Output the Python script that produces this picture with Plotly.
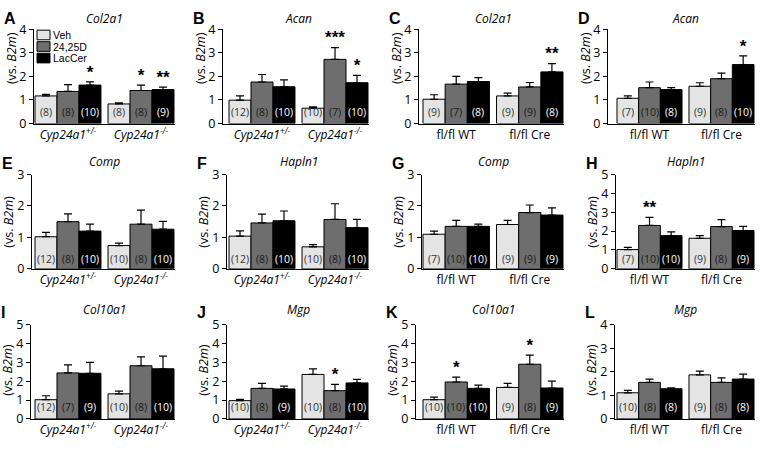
import plotly.graph_objects as go

# ---------------- data ----------------
series_names = ["Veh", "24,25D", "LacCer"]
panel_letters = ["A", "B", "C", "D", "E", "F", "G", "H", "I", "J", "K", "L"]
genes = ["Col2a1", "Acan", "Col2a1", "Acan",
         "Comp", "Hapln1", "Comp", "Hapln1",
         "Col10a1", "Mgp", "Col10a1", "Mgp"]
groups_global = ["Cyp24a1<sup>+/-</sup>", "Cyp24a1<sup>-/-</sup>"]
groups_cond = ["fl/fl WT", "fl/fl Cre"]
y_max = [4, 4, 4, 4, 3, 3, 3, 5, 5, 5, 5, 4]

# values ordered: group1 (Veh, 24,25D, LacCer), group2 (Veh, 24,25D, LacCer)
mean_A = [1.17, 1.36, 1.63, 0.83, 1.40, 1.44]
sem_A = [0.07, 0.29, 0.14, 0.05, 0.23, 0.10]
n_A = [8, 8, 10, 8, 8, 9]
sig_A = ["", "", "*", "", "*", "**"]

mean_B = [0.99, 1.76, 1.56, 0.65, 2.72, 1.73]
sem_B = [0.18, 0.32, 0.29, 0.06, 0.50, 0.31]
n_B = [12, 8, 10, 10, 7, 10]
sig_B = ["", "", "", "", "***", "*"]

mean_C = [1.03, 1.67, 1.78, 1.17, 1.55, 2.19]
sem_C = [0.19, 0.33, 0.17, 0.12, 0.19, 0.35]
n_C = [9, 7, 8, 9, 9, 8]
sig_C = ["", "", "", "", "", "**"]

mean_D = [1.07, 1.52, 1.44, 1.58, 1.90, 2.50]
sem_D = [0.10, 0.24, 0.08, 0.15, 0.24, 0.37]
n_D = [7, 10, 8, 9, 8, 10]
sig_D = ["", "", "", "", "", "*"]

mean_E = [1.02, 1.50, 1.20, 0.74, 1.42, 1.26]
sem_E = [0.14, 0.25, 0.22, 0.08, 0.45, 0.25]
n_E = [12, 8, 10, 10, 8, 10]
sig_E = ["", "", "", "", "", ""]

mean_F = [1.04, 1.46, 1.53, 0.70, 1.57, 1.31]
sem_F = [0.17, 0.28, 0.31, 0.07, 0.50, 0.26]
n_F = [12, 8, 10, 10, 8, 10]
sig_F = ["", "", "", "", "", ""]

mean_G = [1.10, 1.35, 1.35, 1.41, 1.79, 1.71]
sem_G = [0.10, 0.19, 0.07, 0.13, 0.24, 0.23]
n_G = [7, 10, 10, 9, 9, 9]
sig_G = ["", "", "", "", "", ""]

mean_H = [1.02, 2.30, 1.76, 1.62, 2.24, 2.03]
sem_H = [0.12, 0.43, 0.20, 0.14, 0.37, 0.22]
n_H = [7, 10, 10, 9, 8, 9]
sig_H = ["", "**", "", "", "", ""]

mean_I = [1.02, 2.44, 2.42, 1.33, 2.82, 2.66]
sem_I = [0.21, 0.43, 0.58, 0.15, 0.47, 0.67]
n_I = [12, 7, 9, 10, 8, 10]
sig_I = ["", "", "", "", "", ""]

mean_J = [0.97, 1.62, 1.59, 2.36, 1.50, 1.91]
sem_J = [0.07, 0.27, 0.15, 0.29, 0.33, 0.19]
n_J = [10, 8, 9, 10, 8, 10]
sig_J = ["", "", "", "", "*", ""]

mean_K = [1.02, 1.96, 1.62, 1.67, 2.90, 1.64]
sem_K = [0.14, 0.26, 0.17, 0.22, 0.48, 0.37]
n_K = [10, 10, 10, 9, 8, 9]
sig_K = ["", "*", "", "", "*", ""]

mean_L = [1.11, 1.55, 1.28, 1.87, 1.55, 1.69]
sem_L = [0.10, 0.14, 0.04, 0.16, 0.19, 0.21]
n_L = [10, 8, 8, 9, 8, 8]
sig_L = ["", "", "", "", "", ""]

means = [mean_A, mean_B, mean_C, mean_D, mean_E, mean_F, mean_G, mean_H, mean_I, mean_J, mean_K, mean_L]
sems = [sem_A, sem_B, sem_C, sem_D, sem_E, sem_F, sem_G, sem_H, sem_I, sem_J, sem_K, sem_L]
ns = [n_A, n_B, n_C, n_D, n_E, n_F, n_G, n_H, n_I, n_J, n_K, n_L]
sigs = [sig_A, sig_B, sig_C, sig_D, sig_E, sig_F, sig_G, sig_H, sig_I, sig_J, sig_K, sig_L]

# ---------------- styling / layout ----------------
W, H = 767, 451
FONT = "Open Sans"
fills = ["#e4e4e4", "#6e6e6e", "#000000"]
ncolors = ["#333333", "#1a1a1a", "#ffffff"]

axis_px = [34, 223, 419, 608, 32, 227, 422, 616, 31, 227, 416, 615]
col_bars = [(35, 174), (229, 368), (423, 563), (617, 754)]
row_px = [(21, 119), (172, 270), (328, 426)]  # (top, base)
title_y = [10, 158, 312]
letter_y = [10, 161, 315]
ytitle_y = [51, 221, 375]
nlabel_shift = [3, 1, 3]
GAP = 0.32

fig = go.Figure()
annotations = []
shapes = []
layout_axes = {}

for i in range(12):
    r, c = divmod(i, 4)
    k = "" if i == 0 else str(i + 1)
    xa, ya = "x" + k, "y" + k
    bs, be = col_bars[c]
    top, base = row_px[r]
    u = (be - bs) / (6 + GAP)
    x0 = -0.5 - (bs - axis_px[i]) / u
    x1 = 5.5 + GAP + 1.0 / u
    groups = groups_global if c < 2 else groups_cond
    centers = [1.0, 4.0 + GAP]

    layout_axes["xaxis" + k] = dict(
        domain=[axis_px[i] / W, (be + 1) / W], range=[x0, x1], anchor=ya,
        showline=True, linecolor="black", linewidth=1, ticks="",
        tickvals=centers, ticktext=groups, showgrid=False, zeroline=False,
        tickfont=dict(size=12, color="black", family=FONT,
                      style="italic" if c < 2 else "normal"),
        fixedrange=True)
    layout_axes["yaxis" + k] = dict(
        domain=[1 - base / H, 1 - top / H], range=[0, y_max[i]], anchor=xa,
        showline=True, linecolor="black", linewidth=1, ticks="outside",
        ticklen=4, tickcolor="black", tickvals=list(range(y_max[i] + 1)),
        showgrid=False, zeroline=False,
        tickfont=dict(size=12.5, color="black", family=FONT), fixedrange=True)

    m, s, n, sg = means[i], sems[i], ns[i], sigs[i]
    for j in range(3):
        xs = [j, 3 + GAP + j]
        fig.add_trace(go.Bar(
            x=xs, y=[m[j], m[3 + j]], width=1.0, xaxis=xa, yaxis=ya,
            name=series_names[j], showlegend=False,
            marker=dict(color=fills[j], line=dict(color="black", width=1)),
            error_y=dict(type="data", symmetric=False, array=[s[j], s[3 + j]],
                         arrayminus=[0, 0], color="black", thickness=1.2, width=4),
            cliponaxis=False))
        # sample-size labels at the base of each bar
        for g in range(2):
            annotations.append(dict(
                text=f"({n[g * 3 + j]})", x=xs[g], y=0, xref=xa, yref=ya,
                showarrow=False, xanchor="center", yanchor="bottom",
                yshift=nlabel_shift[r],
                font=dict(size=10.5, color=ncolors[j], family=FONT)))
    sx, sy, st = [], [], []
    for g in range(2):
        for j in range(3):
            idx = g * 3 + j
            if sg[idx]:
                sx.append(g * (3 + GAP) + j)
                sy.append(m[idx] + s[idx])
                st.append(sg[idx])
    if sx:
        fig.add_trace(go.Scatter(
            x=sx, y=sy, text=st, mode="text", textposition="top center",
            textfont=dict(size=17, color="#000000", family="Liberation Sans",
                          weight="bold"),
            xaxis=xa, yaxis=ya, showlegend=False, cliponaxis=False))

    # gene title
    annotations.append(dict(
        text=genes[i], x=(bs + be) / 2 / W, y=1 - title_y[r] / H,
        xref="paper", yref="paper", showarrow=False, xanchor="center", yanchor="middle",
        font=dict(size=12, color="black", family=FONT, style="italic")))
    # panel letter
    annotations.append(dict(
        text=panel_letters[i], x=(axis_px[i] - 32) / W, y=1 - letter_y[r] / H,
        xref="paper", yref="paper", showarrow=False, xanchor="left", yanchor="middle",
        font=dict(size=16, color="black", family="Liberation Sans", weight="bold")))
    # y title
    annotations.append(dict(
        text="(vs. <i>B2m</i>)", x=(axis_px[i] - 23) / W, y=1 - ytitle_y[r] / H,
        xref="paper", yref="paper", showarrow=False, textangle=-90,
        xanchor="center", yanchor="middle",
        font=dict(size=12.5, color="black", family=FONT)))

# manual legend in panel A
for j in range(3):
    y0 = 22 + 12 * j
    shapes.append(dict(type="rect", xref="paper", yref="paper",
                       x0=37 / W, x1=50 / W, y0=1 - (y0 + 10) / H, y1=1 - y0 / H,
                       fillcolor=fills[j], line=dict(color="black", width=1)))
    annotations.append(dict(
        text=series_names[j], x=52 / W, y=1 - (y0 + 5) / H, xref="paper", yref="paper",
        showarrow=False, xanchor="left", yanchor="middle", borderpad=0,
        font=dict(size=10.5, color="black", family="Liberation Sans")))

fig.update_layout(
    width=W, height=H, margin=dict(l=0, r=0, t=0, b=0),
    paper_bgcolor="white", plot_bgcolor="white",
    barmode="overlay", showlegend=False,
    annotations=annotations, shapes=shapes,
    font=dict(family=FONT, color="black"),
    **layout_axes)

fig.write_html("out.html", config={"displayModeBar": False},
               post_script="document.body.style.margin='0';document.body.style.overflow='hidden';")
